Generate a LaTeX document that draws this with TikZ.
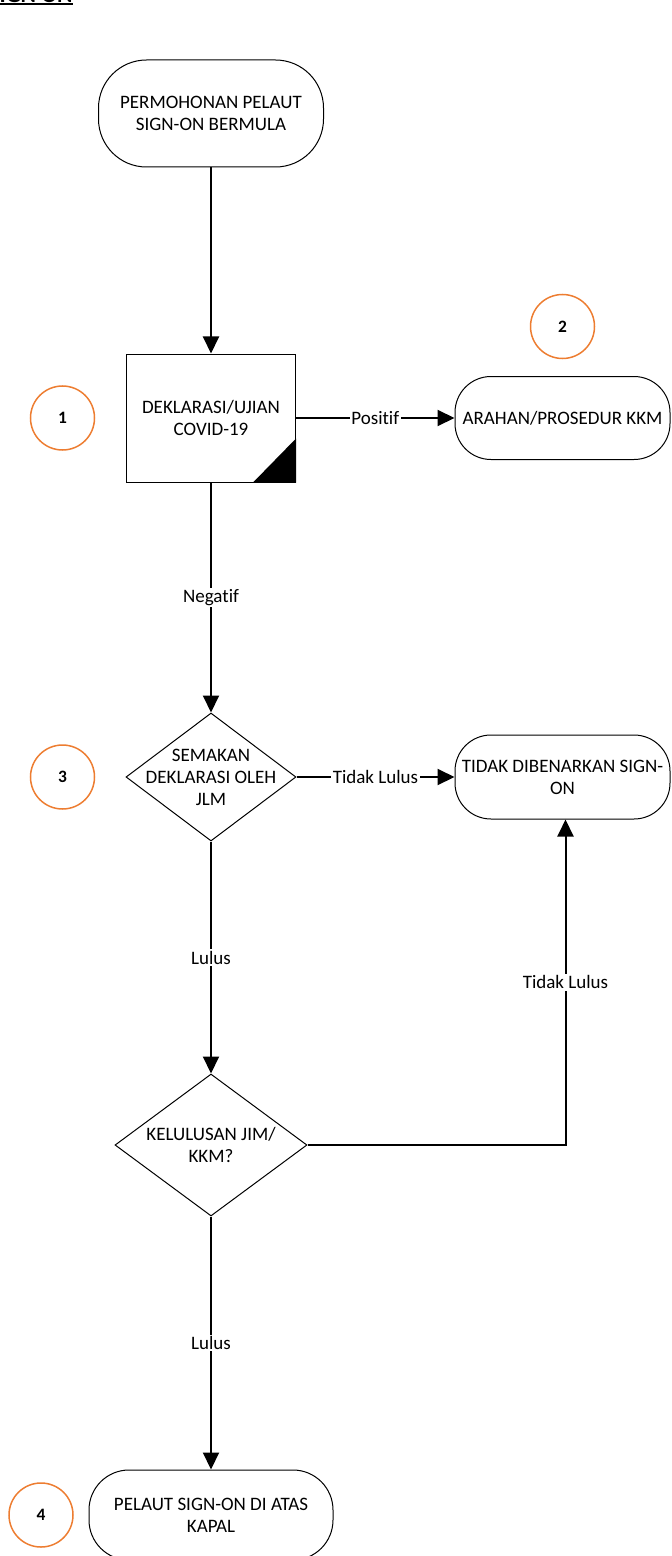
\documentclass[tikz,border=0pt]{standalone}
\usepackage{fontspec}
\setmainfont{Carlito}[Ligatures=NoCommon]
\usetikzlibrary{shapes.geometric,arrows.meta}
\definecolor{jingga}{HTML}{ED7D31}

\begin{document}
\begin{tikzpicture}[x=0.5pt, y=-0.5pt, font=\fontsize{9.5}{11}\selectfont,
    terminal/.style = {draw, line width=0.5pt, rounded corners=#1, align=center, inner sep=0pt},
    terminal/.default = 20pt,
    proses/.style = {draw, line width=0.5pt, align=center, minimum width=84.5pt, minimum height=64pt},
    keputusan/.style = {draw, diamond, line width=0.5pt, inner sep=0pt},
    nomor/.style = {draw=jingga, circle, line width=0.75pt, minimum size=32pt, inner sep=0pt, font=\bfseries\fontsize{8.7}{10}\selectfont},
    panah/.style = {line width=1pt, -{Triangle[length=8.5pt, width=8pt]}},
    garis/.style = {line width=1pt},
    ket/.style = {fill=white, inner sep=0.8pt}]
    \useasboundingbox (0,0) rectangle (671,1556);

    \node[anchor=base east, inner sep=0pt, font=\bfseries\fontsize{11.7}{13}\selectfont] (judul) at (73,3) {SIGN ON};
    \draw[line width=0.7pt] ([yshift=-0.5pt]judul.base west) -- ([yshift=-0.5pt]judul.base east);

    \node[terminal=24pt, minimum width=112.5pt, minimum height=53.5pt] (mula) at (211,113.5) {PERMOHONAN PELAUT\\SIGN-ON BERMULA};
    \node[proses] (deklarasi) [below of=mula, node distance=152.25pt] {DEKLARASI/UJIAN\\COVID-19};
    \node[terminal=18pt, minimum width=107.5pt, minimum height=41.5pt] (arahan) [right of=deklarasi, node distance=175.75pt] {ARAHAN/PROSEDUR KKM};
    \node[keputusan, minimum width=85pt, minimum height=64pt,
          label={[align=center]center:SEMAKAN\\DEKLARASI OLEH\\JLM}] (semakan) [below of=deklarasi, node distance=179.5pt] {};
    \node[terminal=18pt, minimum width=107.5pt, minimum height=42pt] (tolak) [right of=semakan, node distance=175.75pt] {TIDAK DIBENARKAN SIGN-\\ON};
    \node[keputusan, minimum width=96pt, minimum height=71pt,
          label={[align=center]center:KELULUSAN JIM/\\KKM?}] (kelulusan) [below of=semakan, node distance=184pt] {};
    \node[terminal=20pt, minimum width=122pt, minimum height=45pt] (kapal) [below of=kelulusan, node distance=185pt] {PELAUT SIGN-ON DI ATAS\\KAPAL};

    % nombor langkah
    \node[nomor] (n1) [left of=deklarasi, node distance=74.25pt] {1};
    \node[nomor] (n2) [above of=arahan, node distance=45.75pt] {2};
    \node[nomor] (n3) [left of=semakan, node distance=74.25pt] {3};
    \node[nomor] (n4) [left of=kapal, node distance=85pt] {4};

    \draw[panah] (mula) to (deklarasi);
    \draw[panah] (deklarasi) to node[midway, ket] {Positif} (arahan);
    \draw[panah] (deklarasi) to node[midway, ket] {Negatif} (semakan);
    \draw[panah] (semakan) to node[midway, ket] {Tidak Lulus} (tolak);
    \draw[panah] (semakan) to node[midway, ket] {Lulus} (kelulusan);
    \draw[panah] (kelulusan.east) -| node[pos=0.75, ket] {Tidak Lulus} ([xshift=1.5pt]tolak.south);
    \draw[panah] (kelulusan) to node[midway, ket] {Lulus} (kapal);

    \fill (deklarasi.south east) -- ++(-43,0) -- ++(43,-44) -- cycle;
\end{tikzpicture}
\end{document}
